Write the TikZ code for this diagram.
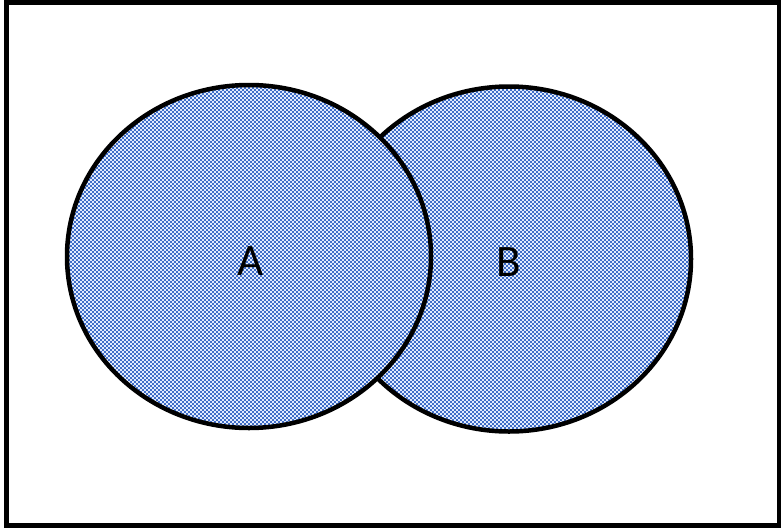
\documentclass[tikz,border=0pt]{standalone}
\usepackage{fontspec}
\setmainfont{Carlito}
\definecolor{vblue}{RGB}{62,108,200}
\definecolor{vdot}{RGB}{225,235,252}
\tikzset{
  setoutline/.style={draw=black, line width=4.5pt},
  dotrow/.style={draw=vdot, line width=1.5pt, dash pattern=on 1.5pt off 2.5pt},
  dotrowshift/.style={dotrow, dash phase=2pt},
  setlabel/.style={font=\fontsize{45}{45}\selectfont, text=black}
}
\newcommand{\vennchecks}{%
  \fill[vblue] (60,78) rectangle (700,440);
  \foreach \yy in {78,82,...,438} {
    \draw[dotrow] (60,\yy) -- (700,\yy);
    \draw[dotrowshift] (60,\yy+2) -- (700,\yy+2);
  }%
}
\begin{document}
\begin{tikzpicture}[x=1pt,y=-1pt]
\useasboundingbox (0,0) rectangle (781,528);
\draw[line width=5pt] (6.5,2.5) rectangle (779.5,525.5);
\begin{scope}
  \clip (509,259) ellipse [x radius=182, y radius=172.5];
  \vennchecks
\end{scope}
\draw[setoutline] (509,259) ellipse [x radius=182, y radius=172.5];
\begin{scope}
  \clip (249,256.5) ellipse [x radius=182, y radius=171.5];
  \vennchecks
\end{scope}
\draw[setoutline] (249,256.5) ellipse [x radius=182, y radius=171.5];
\node[setlabel] (A) at (251,261) {A};
\node[setlabel] (B) at (509,262) {B};
\end{tikzpicture}
\end{document}
